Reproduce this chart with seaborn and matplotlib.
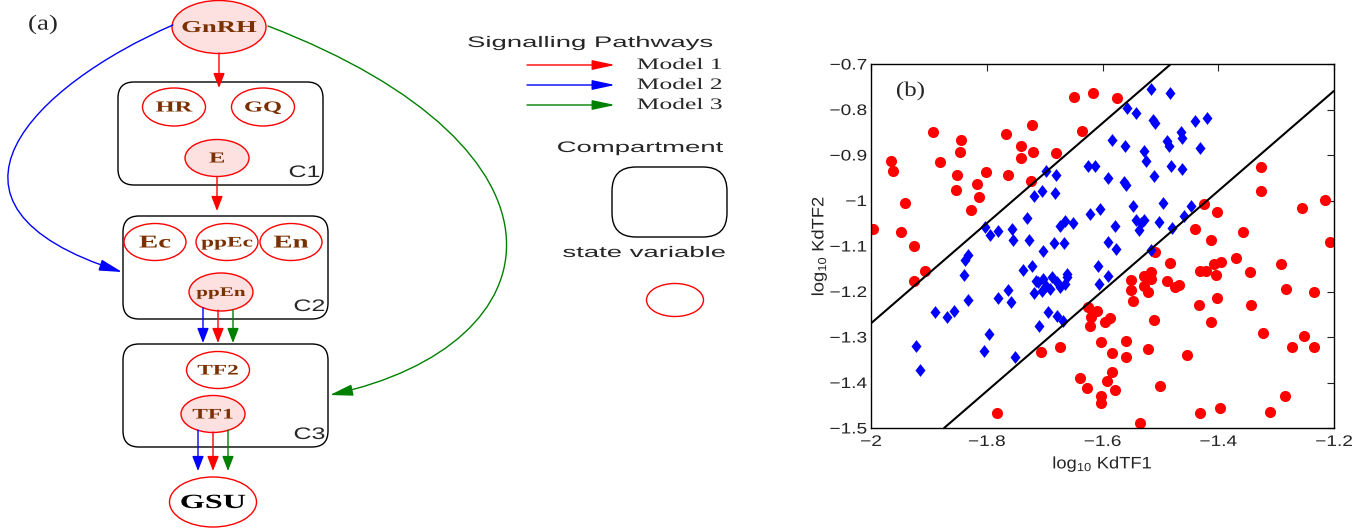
import numpy as np
import pandas as pd
import matplotlib
matplotlib.use('Agg')
import matplotlib.pyplot as plt
from matplotlib.patches import Ellipse, FancyBboxPatch, FancyArrowPatch
from matplotlib.path import Path
from matplotlib import patheffects
from matplotlib.transforms import Affine2D
import seaborn as sns

sns.set_style('white')
plt.rcParams['font.family'] = ['Liberation Sans', 'DejaVu Sans']
plt.rcParams['mathtext.default'] = 'regular'

# ---------------- panel (b) : scatter data ----------------
red_x = [-1.997, -1.965, -1.962, -1.941, -1.949, -1.926, -1.907, -1.925, -1.893, -1.880,
         -1.845, -1.846, -1.851, -1.853, -1.816, -1.814, -1.827, -1.801, -1.767, -1.764,
         -1.740, -1.740, -1.722, -1.720, -1.724, -1.681, -1.650, -1.616, -1.575, -1.636,
         -1.326, -1.326, -1.255, -1.215, -1.207, -1.425, -1.403, -1.441, -1.413, -1.358,
         -1.370, -1.345, -1.291, -1.509, -1.484, -1.432, -1.421, -1.407, -1.396, -1.404,
         -1.550, -1.551, -1.548, -1.528, -1.516, -1.528, -1.522, -1.516, -1.488, -1.474,
         -1.468, -1.511, -1.521, -1.500, -1.454, -1.434, -1.413, -1.402, -1.344, -1.283,
         -1.323, -1.272, -1.251, -1.235, -1.235, -1.285, -1.311, -1.397, -1.431, -1.535,
         -1.782, -1.707, -1.674, -1.625, -1.620, -1.622, -1.609, -1.595, -1.587, -1.603,
         -1.584, -1.560, -1.559, -1.639, -1.626, -1.593, -1.584, -1.578, -1.603, -1.603]
red_y = [-1.062, -0.913, -0.936, -1.006, -1.069, -1.099, -1.154, -1.178, -0.850, -0.915,
         -0.866, -0.894, -0.944, -0.977, -0.964, -0.993, -1.020, -0.937, -0.853, -0.944,
         -0.881, -0.907, -0.835, -0.894, -0.958, -0.895, -0.773, -0.763, -0.774, -0.847,
         -0.927, -0.980, -1.017, -0.998, -1.091, -1.007, -1.026, -1.062, -1.086, -1.069,
         -1.126, -1.157, -1.140, -1.113, -1.137, -1.156, -1.154, -1.140, -1.135, -1.164,
         -1.174, -1.197, -1.220, -1.166, -1.158, -1.188, -1.201, -1.173, -1.177, -1.191,
         -1.186, -1.263, -1.327, -1.407, -1.340, -1.230, -1.267, -1.215, -1.230, -1.195,
         -1.292, -1.322, -1.297, -1.322, -1.201, -1.429, -1.464, -1.455, -1.466, -1.489,
         -1.466, -1.332, -1.321, -1.235, -1.257, -1.275, -1.242, -1.268, -1.259, -1.312,
         -1.335, -1.308, -1.343, -1.390, -1.412, -1.396, -1.378, -1.417, -1.429, -1.444]

blue_x = [-1.516, -1.484, -1.558, -1.542, -1.513, -1.510, -1.440, -1.420, -1.584, -1.561,
          -1.528, -1.525, -1.488, -1.485, -1.465, -1.463, -1.431, -1.481, -1.462, -1.625,
          -1.613, -1.590, -1.562, -1.560, -1.511, -1.698, -1.681, -1.718, -1.705, -1.682,
          -1.547, -1.495, -1.447, -1.542, -1.533, -1.537, -1.503, -1.460, -1.480, -1.622,
          -1.605, -1.579, -1.590, -1.576, -1.516, -1.730, -1.756, -1.754, -1.727, -1.803,
          -1.795, -1.780, -1.702, -1.684, -1.666, -1.673, -1.664, -1.651, -1.833, -1.838,
          -1.840, -1.737, -1.722, -1.608, -1.590, -1.662, -1.833, -1.890, -1.869, -1.856,
          -1.923, -1.916, -1.796, -1.805, -1.780, -1.764, -1.758, -1.751, -1.718, -1.712,
          -1.703, -1.697, -1.691, -1.688, -1.679, -1.673, -1.664, -1.662, -1.715, -1.705,
          -1.695, -1.709, -1.679, -1.668, -1.606, -1.528]
blue_y = [-0.755, -0.764, -0.797, -0.807, -0.823, -0.830, -0.825, -0.818, -0.867, -0.881,
          -0.892, -0.914, -0.870, -0.880, -0.849, -0.863, -0.885, -0.924, -0.930, -0.924,
          -0.924, -0.951, -0.960, -0.966, -0.947, -0.935, -0.945, -0.990, -0.980, -0.984,
          -1.011, -1.006, -1.011, -1.042, -1.050, -1.064, -1.048, -1.035, -1.061, -1.029,
          -1.019, -1.057, -1.092, -1.107, -1.108, -1.039, -1.063, -1.086, -1.086, -1.059,
          -1.075, -1.068, -1.112, -1.094, -1.094, -1.057, -1.046, -1.050, -1.119, -1.130,
          -1.163, -1.152, -1.145, -1.143, -1.167, -1.168, -1.218, -1.244, -1.257, -1.242,
          -1.319, -1.373, -1.294, -1.330, -1.215, -1.196, -1.224, -1.343, -1.203, -1.180,
          -1.172, -1.187, -1.194, -1.169, -1.180, -1.191, -1.184, -1.162, -1.177, -1.198,
          -1.246, -1.275, -1.253, -1.264, -1.184, -1.042]

line_slope = 1.1
line_intercepts = [0.93, 0.561]
x_ticks = [-2, -1.8, -1.6, -1.4, -1.2]
y_ticks = [-1.5, -1.4, -1.3, -1.2, -1.1, -1, -0.9, -0.8, -0.7]
x_ticklabels = ['\u22122', '\u22121.8', '\u22121.6', '\u22121.4', '\u22121.2']
y_ticklabels = ['\u22121.5', '\u22121.4', '\u22121.3', '\u22121.2', '\u22121.1', '\u22121',
                '\u22120.9', '\u22120.8', '\u22120.7']

# ---------------- panel (a) : diagram (pixel layout) ----------------
node_names = ['GnRH', 'HR', 'GQ', 'E', 'Ec', 'ppEc', 'En', 'ppEn', 'TF2', 'TF1', 'GSU']
node_x = [219, 174, 263, 217, 155, 227, 291, 221, 218, 213, 213]
node_y = [27, 107, 107, 158, 242, 242, 242, 292, 370, 414, 502]
node_w = [94, 63, 63, 64, 62, 62, 62, 64, 63, 64, 87]
node_h = [53, 38, 38, 37, 37, 37, 37, 38, 37, 37, 50]
node_fill = [True, False, False, True, False, False, False, True, False, True, False]
node_fs = [12, 11, 11, 11, 13, 10.5, 13, 9.5, 10.5, 10.5, 14.5]

comp_names = ['C1', 'C2', 'C3']
comp_x0 = [118, 123, 123]
comp_x1 = [323, 328, 328]
comp_y0 = [82, 216, 344]
comp_y1 = [185, 319, 447]

model_names = ['Model 1', 'Model 2', 'Model 3']
model_colors = ['#ff0000', '#0000ff', '#008000']


# the original figure was stretched sideways, so its lettering is wide
class Stretch(patheffects.AbstractPathEffect):
    def __init__(self, factor, anchor='center', vertical=False):
        super().__init__()
        self.factor = factor
        self.anchor = anchor
        self.vertical = vertical

    def draw_path(self, renderer, gc, tpath, affine, rgbFace=None):
        ext = tpath.get_extents()
        px = {'center': (ext.x0 + ext.x1) / 2, 'right': ext.x1, 'left': ext.x0}[self.anchor]
        cx, cy = affine.transform((px, 0))
        if self.vertical:
            st = Affine2D().translate(-cx, -cy).scale(1, self.factor).translate(cx, cy)
        else:
            st = Affine2D().translate(-cx, -cy).scale(self.factor, 1).translate(cx, cy)
        renderer.draw_path(gc, tpath, affine + st, rgbFace)


def wide(f, anchor='center', vertical=False):
    return [Stretch(f, anchor, vertical)]


fig = plt.figure(figsize=(13.71, 5.30), dpi=100)
ax0 = fig.add_axes([0, 0, 1, 1])
ax0.set_xlim(0, 1371)
ax0.set_ylim(530, 0)
ax0.axis('off')

brown = '#7a3000'
pink = '#fde0e0'
for name, x, y, w, h, f, fs in zip(node_names, node_x, node_y, node_w, node_h, node_fill, node_fs):
    ax0.add_patch(Ellipse((x, y), w, h, facecolor=pink if f else 'white',
                          edgecolor='red', lw=1, zorder=3))
    ax0.text(x, y + 1, name, ha='center', va='center', fontsize=fs, fontweight='bold',
             family='Liberation Serif', color='black' if name == 'GSU' else brown, zorder=4,
             path_effects=wide(1.6))

for name, x0, x1, y0, y1 in zip(comp_names, comp_x0, comp_x1, comp_y0, comp_y1):
    ax0.add_patch(FancyBboxPatch((x0, y0), x1 - x0, y1 - y0,
                                 boxstyle='round,pad=0,rounding_size=16',
                                 facecolor='none', edgecolor='black', lw=1, zorder=2))
    ax0.text(x1 - 3, y1 - 5, name, ha='right', va='bottom', fontsize=12,
             path_effects=wide(1.5, 'right'))

arrow_kw = dict(arrowstyle='-|>,head_length=0.9,head_width=0.35', mutation_scale=10, lw=1)
# straight arrows: x, y start, y end, colour
straight = [(219, 53, 88, 0), (217, 177, 211, 0),
            (203, 308, 343, 1), (218, 310, 343, 0), (233, 310, 343, 2),
            (198, 430, 471, 1), (213, 432, 471, 0), (228, 430, 471, 2)]
for x, ya, yb, c in straight:
    ax0.add_patch(FancyArrowPatch((x, ya), (x, yb), color=model_colors[c], **arrow_kw,
                                  shrinkA=0, shrinkB=0, zorder=5))

# curved arrows
blue_path = Path([(173, 25), (35, 85), (-90, 205), (122, 272)],
                 [Path.MOVETO, Path.CURVE4, Path.CURVE4, Path.CURVE4])
green_path = Path([(268, 26), (590, 150), (560, 345), (330, 395)],
                  [Path.MOVETO, Path.CURVE4, Path.CURVE4, Path.CURVE4])
for p, c in [(blue_path, 1), (green_path, 2)]:
    ax0.add_patch(FancyArrowPatch(path=p, color=model_colors[c],
                                  arrowstyle='-|>,head_length=1.4,head_width=0.35',
                                  mutation_scale=10, lw=1, zorder=5))

ax0.text(43, 25, '(a)', fontsize=15.5, family='Liberation Serif', ha='center', va='center',
         path_effects=wide(1.25))

# legend-like key
ax0.text(590, 43, 'Signalling Pathways', fontsize=11, ha='center', va='center',
         path_effects=wide(1.8))
for i, (name, c) in enumerate(zip(model_names, model_colors)):
    yy = 65 + 20 * i
    ax0.add_patch(FancyArrowPatch((527, yy), (615, yy), color=c,
                                  arrowstyle='-|>,head_length=1.4,head_width=0.3',
                                  mutation_scale=10, lw=1, shrinkA=0, shrinkB=0))
    ax0.text(637, yy, name, fontsize=11.5, family='Liberation Serif', va='center',
             path_effects=wide(1.6, 'left'))
ax0.text(640, 148, 'Compartment', fontsize=11, ha='center', va='center',
         path_effects=wide(1.8))
ax0.add_patch(FancyBboxPatch((612, 167), 115, 70, boxstyle='round,pad=0,rounding_size=24',
                             facecolor='none', edgecolor='black', lw=1))
ax0.text(644, 253, 'state variable', fontsize=11, ha='center', va='center',
         path_effects=wide(1.8))
ax0.add_patch(Ellipse((675, 300), 57, 33, facecolor='none', edgecolor='red', lw=1))

# ---------------- panel (b) ----------------
ax = fig.add_axes([871 / 1371, (530 - 428) / 530, 463 / 1371, 364 / 530])
diamond = [(0, 1), (0.78, 0), (0, -1), (-0.78, 0), (0, 1)]
sns.scatterplot(x=red_x, y=red_y, ax=ax, color='#ff0000', marker='o', s=64, linewidth=0, zorder=2)
sns.scatterplot(x=blue_x, y=blue_y, ax=ax, color='#0000ff', marker=diamond, s=85, linewidth=0,
                zorder=2)
for c in line_intercepts:
    ax.axline((0, c), slope=line_slope, color='black', lw=1.5, zorder=3)

ax.set_xlim(-2, -1.2)
ax.set_ylim(-1.5, -0.7)
ax.set_xticks(x_ticks)
ax.set_xticklabels(x_ticklabels)
ax.set_yticks(y_ticks)
ax.set_yticklabels(y_ticklabels)
ax.tick_params(direction='in', top=True, right=True, length=5, width=0.8, labelsize=11,
               colors='#222222')
ax.tick_params(axis='x', pad=5)
ax.tick_params(axis='y', pad=3)
for lab in ax.get_xticklabels():
    lab.set_path_effects(wide(1.25))
for lab in ax.get_yticklabels():
    lab.set_path_effects(wide(1.25, 'right'))
for sp in ax.spines.values():
    sp.set_color('black')
    sp.set_linewidth(1)
ax.set_xlabel('log$_{10}$ KdTF1', fontsize=12, labelpad=4, path_effects=wide(1.1))
ax.set_ylabel('log$_{10}$ KdTF2', fontsize=12, labelpad=6,
              path_effects=wide(1.1, vertical=True))
ax.text(0.085, 0.925, '(b)', transform=ax.transAxes, fontsize=15, family='Liberation Serif',
        ha='center', va='center', path_effects=wide(1.2))

fig.savefig('out.png', dpi=100)
